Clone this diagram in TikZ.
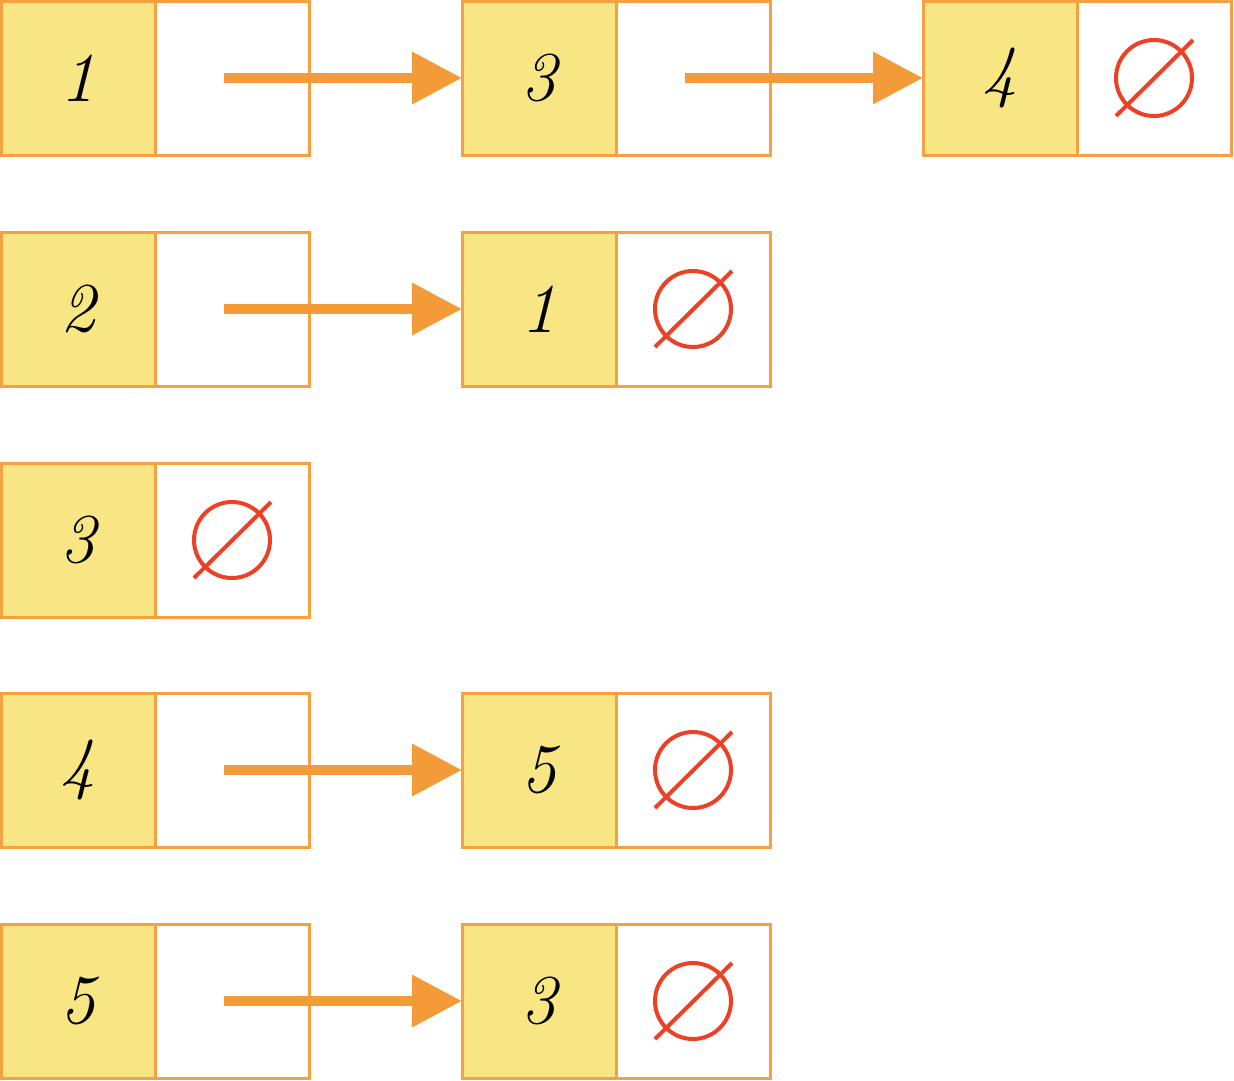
\documentclass[tikz,border=0pt]{standalone}
\usepackage{tikz}
\usetikzlibrary{positioning,arrows.meta}
\definecolor{cellorange}{HTML}{F5A142}
\definecolor{cellyellow}{HTML}{F8E685}
\definecolor{linkorange}{HTML}{F29B38}
\definecolor{nullred}{HTML}{EC4127}
\tikzset{x=1pt, y=-1pt,
valbox/.style={draw=cellorange, line width=3pt, fill=cellyellow, minimum size=154pt, outer sep=0pt, inner sep=0pt, font=\fontsize{70}{70}\selectfont\itshape}, % the cell with the key
ptrbox/.style={draw=cellorange, line width=3pt, fill=white, minimum size=154pt, outer sep=0pt, inner sep=0pt, right=0pt of #1}, % the cell with the next pointer
link/.style={draw=linkorange, line width=10pt, -{Triangle[length=50pt,width=50pt]}}, % arrow to the next element
nullptr/.pic={\draw[nullred, line width=4pt] (0,0) circle (38); \draw[nullred, line width=4pt] (-38,38) -- (39,-38);}, % empty pointer
}
\begin{document}
\begin{tikzpicture}
\useasboundingbox (0,0) rectangle (1234,1080);

% heads of the lists
\node[valbox] (h1) at (78,78) {1};
\node[ptrbox=h1] (h1p) {};
\node[valbox] (h2) at (78,309) {2};
\node[ptrbox=h2] (h2p) {};
\node[valbox] (h3) at (78,540) {3};
\node[ptrbox=h3] (h3p) {};
\node[valbox] (h4) at (78,770) {4};
\node[ptrbox=h4] (h4p) {};
\node[valbox] (h5) at (78,1001) {5};
\node[ptrbox=h5] (h5p) {};

% following elements
\node[valbox, right=153pt of h1p] (a1) {3};
\node[ptrbox=a1] (a1p) {};
\node[valbox, right=153pt of a1p] (b1) {4};
\node[ptrbox=b1] (b1p) {};
\node[valbox, right=153pt of h2p] (a2) {1};
\node[ptrbox=a2] (a2p) {};
\node[valbox, right=153pt of h4p] (a4) {5};
\node[ptrbox=a4] (a4p) {};
\node[valbox, right=153pt of h5p] (a5) {3};
\node[ptrbox=a5] (a5p) {};

% links
\draw[link] ([xshift=-8pt]h1p.center) -- (a1.west);
\draw[link] ([xshift=-8pt]a1p.center) -- (b1.west);
\draw[link] ([xshift=-8pt]h2p.center) -- (a2.west);
\draw[link] ([xshift=-8pt]h4p.center) -- (a4.west);
\draw[link] ([xshift=-8pt]h5p.center) -- (a5.west);

% empty pointers
\pic at (b1p) {nullptr};
\pic at (a2p) {nullptr};
\pic at (h3p) {nullptr};
\pic at (a4p) {nullptr};
\pic at (a5p) {nullptr};
\end{tikzpicture}
\end{document}
